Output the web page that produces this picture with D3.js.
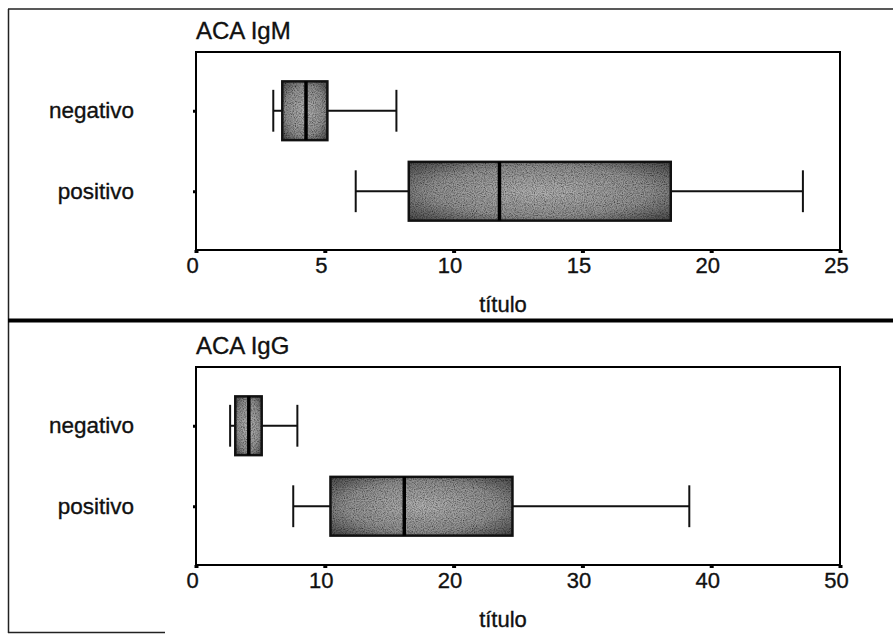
<!DOCTYPE html>
<html>
<head>
<meta charset="utf-8">
<script src="https://cdn.jsdelivr.net/npm/d3@7"></script>
<style>
  html, body { margin: 0; padding: 0; background: #fff; }
  svg { display: block; }
  text { font-family: "Liberation Sans", Arial, sans-serif; fill: #111; }
</style>
</head>
<body>
<svg id="chart" width="893" height="635"></svg>
<script>
// ---- data ----
const categories = ["negativo", "positivo"];

const igmMin    = [3.0, 6.2];
const igmQ1     = [3.35, 8.26];
const igmMedian = [4.27, 11.78];
const igmQ3     = [5.1, 18.43];
const igmMax    = [7.78, 23.56];
const igmTicks  = [0, 5, 10, 15, 20, 25];

const iggMin    = [2.65, 7.55];
const iggQ1     = [3.05, 10.44];
const iggMedian = [4.1, 16.17];
const iggQ3     = [5.1, 24.57];
const iggMax    = [7.87, 38.3];
const iggTicks  = [0, 10, 20, 30, 40, 50];

const panelTitles = ["ACA IgM", "ACA IgG"];
const axisTitle = "título";

// ---- drawing ----
const svg = d3.select("#chart");
const defs = svg.append("defs");

const grad = defs.append("radialGradient").attr("id", "boxfill")
  .attr("cx", "50%").attr("cy", "50%").attr("r", "70%");
grad.append("stop").attr("offset", "0%").attr("stop-color", "#b4b4b4");
grad.append("stop").attr("offset", "60%").attr("stop-color", "#929292");
grad.append("stop").attr("offset", "100%").attr("stop-color", "#4a4a4a");

// grain filter
const f = defs.append("filter").attr("id", "grain").attr("x", 0).attr("y", 0).attr("width", 1).attr("height", 1);
f.append("feTurbulence").attr("type", "fractalNoise").attr("baseFrequency", 0.9).attr("numOctaves", 2).attr("seed", 3).attr("result", "noise");
f.append("feColorMatrix").attr("in", "noise").attr("type", "matrix")
  .attr("values", "0 0 0 0 0  0 0 0 0 0  0 0 0 0 0  0 0 0 -1.6 1.05").attr("result", "dots");
f.append("feComposite").attr("in", "dots").attr("in2", "SourceGraphic").attr("operator", "in").attr("result", "dd");
f.append("feMerge").call(m => {
  m.append("feMergeNode").attr("in", "SourceGraphic");
  m.append("feMergeNode").attr("in", "dd");
});

// outer frame lines
svg.append("line").attr("x1", 8).attr("x2", 893).attr("y1", 9).attr("y2", 9).attr("stroke", "#222").attr("stroke-width", 1.5);
svg.append("line").attr("x1", 8.5).attr("x2", 8.5).attr("y1", 9).attr("y2", 633).attr("stroke", "#222").attr("stroke-width", 1.5);
svg.append("line").attr("x1", 8).attr("x2", 893).attr("y1", 320.5).attr("y2", 320.5).attr("stroke", "#000").attr("stroke-width", 4);
svg.append("line").attr("x1", 8).attr("x2", 165).attr("y1", 632.5).attr("y2", 632.5).attr("stroke", "#222").attr("stroke-width", 1.5);

const plotLeft = 196, plotRight = 840, plotTop = 52, plotBottom = 250;
const txtStroke = "#111", txtStrokeW = 0.35;

function panel(offset, title, mins, q1s, meds, q3s, maxs, ticks) {
  const g = svg.append("g").attr("transform", `translate(0,${offset})`);
  const x = d3.scaleLinear().domain([ticks[0], ticks[ticks.length - 1]]).range([plotLeft, plotRight]);
  const y = d3.scalePoint().domain(categories).range([plotTop, plotBottom]).padding(0.73);
  const step = y.step();
  const boxH = step * 0.73, capH = step * 0.52;

  g.append("text").attr("x", plotLeft).attr("y", 39).attr("font-size", 24)
    .attr("stroke", txtStroke).attr("stroke-width", txtStrokeW).text(title);

  // frame
  g.append("rect").attr("x", plotLeft).attr("y", plotTop).attr("width", plotRight - plotLeft).attr("height", plotBottom - plotTop)
    .attr("fill", "none").attr("stroke", "#000").attr("stroke-width", 2);

  // x axis
  const xa = g.append("g").attr("transform", `translate(0,${plotBottom})`)
    .call(d3.axisBottom(x).tickValues(ticks).tickSize(3).tickPadding(4).tickFormat(d3.format("d")));
  xa.select(".domain").remove();
  xa.selectAll(".tick line").attr("stroke", "#000").attr("stroke-width", 4);
  xa.selectAll(".tick text").attr("font-size", 22).attr("dx", -4)
    .style("font-family", "Liberation Sans, Arial, sans-serif").attr("fill", "#111")
    .attr("stroke", txtStroke).attr("stroke-width", txtStrokeW);

  // y axis
  const ya = g.append("g").attr("transform", `translate(${plotLeft},0)`)
    .call(d3.axisLeft(y).tickSize(3).tickPadding(59));
  ya.select(".domain").remove();
  ya.selectAll(".tick line").attr("stroke", "#000").attr("stroke-width", 3);
  ya.selectAll(".tick text").attr("font-size", 22.5)
    .style("font-family", "Liberation Sans, Arial, sans-serif").attr("fill", "#111")
    .attr("stroke", txtStroke).attr("stroke-width", txtStrokeW);

  g.append("text").attr("x", 503).attr("y", 312).attr("text-anchor", "middle").attr("font-size", 22)
    .attr("stroke", txtStroke).attr("stroke-width", txtStrokeW).text(axisTitle);

  categories.forEach((c, i) => {
    const cy = y(c);
    // whiskers
    g.append("line").attr("x1", x(mins[i])).attr("x2", x(q1s[i])).attr("y1", cy).attr("y2", cy).attr("stroke", "#111").attr("stroke-width", 2);
    g.append("line").attr("x1", x(q3s[i])).attr("x2", x(maxs[i])).attr("y1", cy).attr("y2", cy).attr("stroke", "#111").attr("stroke-width", 2);
    g.append("line").attr("x1", x(mins[i])).attr("x2", x(mins[i])).attr("y1", cy - capH / 2).attr("y2", cy + capH / 2).attr("stroke", "#111").attr("stroke-width", 2);
    g.append("line").attr("x1", x(maxs[i])).attr("x2", x(maxs[i])).attr("y1", cy - capH / 2).attr("y2", cy + capH / 2).attr("stroke", "#111").attr("stroke-width", 2);
    // box
    g.append("rect").attr("x", x(q1s[i])).attr("y", cy - boxH / 2)
      .attr("width", x(q3s[i]) - x(q1s[i])).attr("height", boxH)
      .attr("fill", "url(#boxfill)").attr("filter", "url(#grain)");
    g.append("rect").attr("x", x(q1s[i])).attr("y", cy - boxH / 2)
      .attr("width", x(q3s[i]) - x(q1s[i])).attr("height", boxH)
      .attr("fill", "none").attr("stroke", "#111").attr("stroke-width", 2.5);
    // median
    g.append("line").attr("x1", x(meds[i])).attr("x2", x(meds[i])).attr("y1", cy - boxH / 2).attr("y2", cy + boxH / 2)
      .attr("stroke", "#000").attr("stroke-width", 3.5);
  });
}

panel(0, panelTitles[0], igmMin, igmQ1, igmMedian, igmQ3, igmMax, igmTicks);
panel(315, panelTitles[1], iggMin, iggQ1, iggMedian, iggQ3, iggMax, iggTicks);
</script>
</body>
</html>
